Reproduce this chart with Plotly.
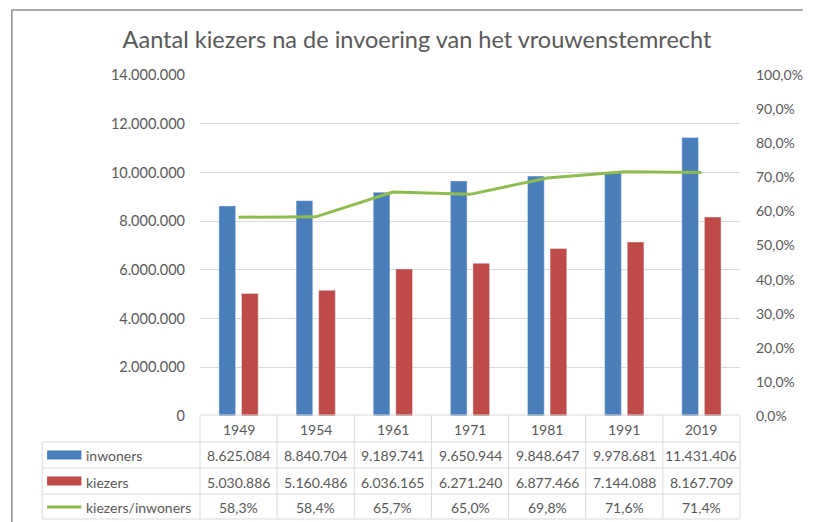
import plotly.graph_objects as go

years = ["1949", "1954", "1961", "1971", "1981", "1991", "2019"]
inwoners = [8625084, 8840704, 9189741, 9650944, 9848647, 9978681, 11431406]
kiezers = [5030886, 5160486, 6036165, 6271240, 6877466, 7144088, 8167709]
ratio = [0.583, 0.584, 0.657, 0.650, 0.698, 0.716, 0.714]
series_names = ["inwoners", "kiezers", "kiezers/inwoners"]
title_text = "Aantal kiezers na de invoering van het vrouwenstemrecht"

BLUE = "#4a7ebb"
RED = "#be4b48"
GREEN = "#8fbc4f"
GRID = "#d9d9d9"
TXT = "#595959"
FONT = "Lato"

W, H = 815, 522
PL, PR, PT, PB = 200, 751, 75, 416


def px(x):
    return (x - PL) / (PR - PL)


def py(y):
    return (PB - y) / (PB - PT)


def nl(v):
    return f"{v:,}".replace(",", ".")


def pct(v):
    return f"{v * 100:.1f}%".replace(".", ",")


fig = go.Figure()
fig.add_trace(go.Bar(x=years, y=inwoners, name=series_names[0], marker_color=BLUE))
fig.add_trace(go.Bar(x=years, y=kiezers, name=series_names[1], marker_color=RED))
fig.add_trace(go.Scatter(x=years, y=ratio, name=series_names[2], yaxis="y2", mode="lines",
                         line=dict(color=GREEN, width=3)))

shapes = []
ann = []
n = len(years)
rows = [415, 442, 468, 494, 519]
line = dict(color=GRID, width=1)
shapes.append(dict(type="line", xref="paper", yref="paper", x0=px(PL), x1=px(PR),
                   y0=py(rows[0]), y1=py(rows[0]), line=line))
for r in rows[1:]:
    shapes.append(dict(type="line", xref="paper", yref="paper", x0=px(39), x1=px(PR),
                       y0=py(r), y1=py(r), line=line))
for i in range(n + 1):
    xp = i / n
    shapes.append(dict(type="line", xref="paper", yref="paper", x0=xp, x1=xp,
                       y0=py(rows[0]), y1=py(rows[-1]), line=line))
shapes.append(dict(type="line", xref="paper", yref="paper", x0=px(39), x1=px(39),
                   y0=py(rows[1]), y1=py(rows[-1]), line=line))

tfont = dict(family=FONT, size=14, color=TXT)
row_vals = [years, [nl(v) for v in inwoners], [nl(v) for v in kiezers], [pct(v) for v in ratio]]
for ri, vals in enumerate(row_vals):
    yc = py((rows[ri] + rows[ri + 1]) / 2 + 1)
    for ci, t in enumerate(vals):
        ann.append(dict(x=(ci + 0.5) / n, xref="paper", y=yc, yref="paper", text=t,
                        showarrow=False, font=tfont, xanchor="center", yanchor="middle"))

for k, nm in enumerate(series_names):
    yc = (rows[k + 1] + rows[k + 2]) / 2
    ann.append(dict(x=px(82), xref="paper", y=py(yc + 1), yref="paper", text=nm, showarrow=False,
                    font=tfont, xanchor="left", yanchor="middle"))
shapes.append(dict(type="rect", xref="paper", yref="paper", x0=px(44), x1=px(79),
                   y0=py(459.5), y1=py(450.5), fillcolor=BLUE, line=dict(width=0)))
shapes.append(dict(type="rect", xref="paper", yref="paper", x0=px(44), x1=px(79),
                   y0=py(485.5), y1=py(476.5), fillcolor=RED, line=dict(width=0)))
shapes.append(dict(type="line", xref="paper", yref="paper", x0=px(44), x1=px(79),
                   y0=py(507), y1=py(507), line=dict(color=GREEN, width=3)))

shapes.append(dict(type="line", xref="paper", yref="paper", x0=px(8), x1=px(815),
                   y0=py(10), y1=py(10), line=dict(color="#8c8c8c", width=1.5)))
shapes.append(dict(type="line", xref="paper", yref="paper", x0=px(8), x1=px(8),
                   y0=py(10), y1=py(522), line=dict(color="#8c8c8c", width=1.5)))

fig.update_layout(
    width=W, height=H,
    margin=dict(l=PL, r=W - PR, t=PT, b=H - PB, pad=0),
    paper_bgcolor="white", plot_bgcolor="white",
    separators=",.",
    barmode="group", bargap=0.415, bargroupgap=0.26,
    showlegend=False,
    title=dict(text=title_text, x=417 / W, xanchor="center", y=1 - 40 / H, yanchor="middle",
               font=dict(family=FONT, size=23.5, color=TXT)),
    xaxis=dict(type="category", range=[-0.5, n - 0.5], showticklabels=False, showgrid=False,
               showline=False, zeroline=False, fixedrange=True),
    yaxis=dict(range=[0, 14e6], dtick=2e6, tickformat=",d", showgrid=True, gridcolor=GRID,
               gridwidth=1, zeroline=False, showline=False, ticklabelstandoff=14,
               tickfont=dict(family=FONT, size=14.5, color=TXT)),
    yaxis2=dict(range=[0, 1], dtick=0.1, tickformat=".1%", overlaying="y", side="right",
                showgrid=False, zeroline=False, showline=False, ticklabelstandoff=15,
                tickfont=dict(family=FONT, size=14, color=TXT)),
    shapes=shapes,
    annotations=ann,
    font=dict(family=FONT, color=TXT),
)

fig.write_html(
    "out.html", config={"displayModeBar": False},
    post_script="document.body.style.margin='0';document.body.style.overflow='hidden';"
                "document.documentElement.style.overflow='hidden';")
